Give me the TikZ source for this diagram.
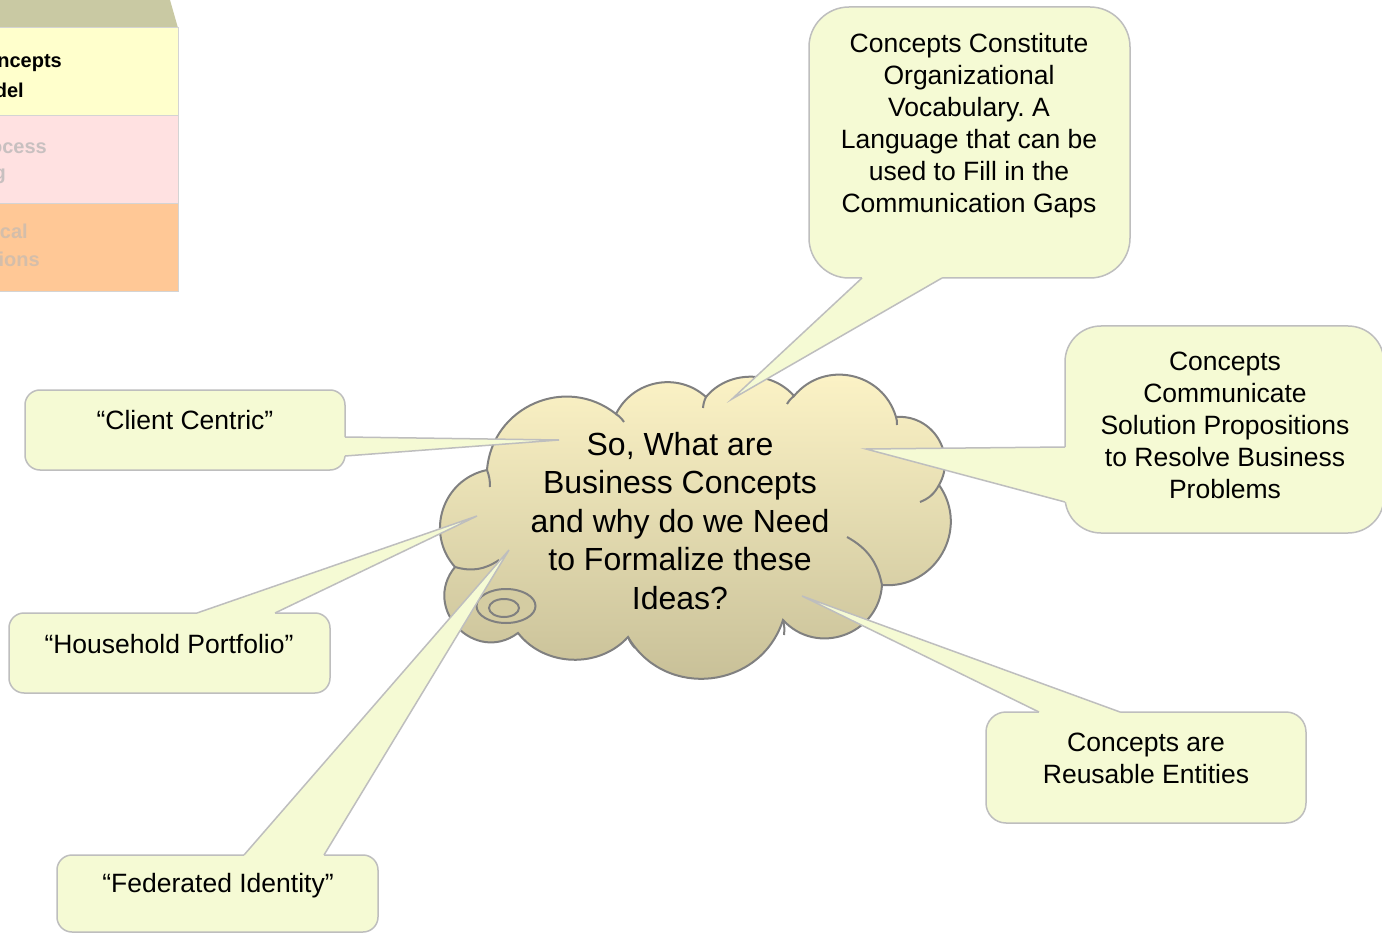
\documentclass[tikz,border=0pt]{standalone}
\usepackage{fontspec}
\setmainfont{Liberation Sans}
\frenchspacing
\definecolor{bubblefill}{RGB}{245,250,212}
\definecolor{bubbleline}{RGB}{190,190,190}
\definecolor{cloudtop}{RGB}{254,245,200}
\definecolor{cloudbot}{RGB}{197,189,149}
\definecolor{cloudline}{RGB}{128,128,128}
\definecolor{tailfill}{RGB}{212,204,162}
\definecolor{stacktop}{RGB}{201,201,163}
\definecolor{stackyel}{RGB}{255,255,204}
\definecolor{stackpink}{RGB}{255,225,225}
\definecolor{stackorange}{RGB}{255,200,150}
\definecolor{stackline}{RGB}{212,212,212}
\definecolor{pinktext}{RGB}{200,192,192}
\definecolor{orangetext}{RGB}{212,190,170}
\tikzset{
  bubble/.style={fill=bubblefill, draw=bubbleline, line width=1.5pt},
  bubbleedge/.style={draw=bubbleline, line width=1.5pt, line join=miter},
  bubblecover/.style={fill=bubblefill},
  bubbletext/.style={font=\fontsize{26.5}{32}\selectfont, align=center, text=black, inner sep=0pt},
  cloudshape/.style={top color=cloudtop, bottom color=cloudbot, draw=cloudline, line width=2pt},
  cloudinner/.style={draw=cloudline, line width=2pt},
  cloudtext/.style={font=\fontsize{32}{38.5}\selectfont, align=center, inner sep=0pt},
  stacktext/.style={font=\fontsize{20}{27}\selectfont\bfseries, inner sep=0pt, anchor=east},
  stackcell/.style={draw=stackline, line width=1pt},
}
\begin{document}
\begin{tikzpicture}[x=1pt, y=-1pt]
\useasboundingbox (0,0) rectangle (1382,933);
\fill[white] (0,0) rectangle (1382,933);

% ---- stack (top left, partially cut off)
\fill[stacktop] (-5,0) -- (170,0) -- (178,28) -- (-5,28) -- cycle;
\filldraw[stackcell, fill=stackyel] (-5,28) rectangle (178,116);
\filldraw[stackcell, fill=stackpink] (-5,116) rectangle (178,204);
\filldraw[stackcell, fill=stackorange] (-5,204) rectangle (178,292);
\node[stacktext] (s1) at (62,63) {ncepts};
\node[stacktext] (s2) at (24,90) {del};
\node[stacktext, text=pinktext] (s3) at (47,148) {ocess};
\node[stacktext, text=pinktext] (s4) at (6,176) {g};
\node[stacktext, text=orangetext] (s5) at (28,231) {cal};
\node[stacktext, text=orangetext] (s6) at (40,259) {ions};

% ---- cloud
\coordinate (cA) at (487,470);
\coordinate (cB) at (616,414);
\coordinate (cC) at (706,397);
\coordinate (cD) at (794,396);
\coordinate (cE) at (896,417);
\coordinate (cF) at (939,485);
\coordinate (cG) at (882,585);
\coordinate (cH) at (783,620);
\coordinate (cI) at (628,637);
\coordinate (cJ) at (518,633);
\coordinate (cK) at (455,567);
\path[cloudshape] (cA)
  to[bend left=62, looseness=1.16] (cB)
  to[bend left=53, looseness=1.06] (cC)
  to[bend left=50, looseness=1.0] (cD)
  to[bend left=62, looseness=1.16] (cE)
  to[bend left=62, looseness=1.16] (cF)
  to[bend left=65, looseness=1.2] (cG)
  to[bend left=67, looseness=1.22] (cH)
  to[bend left=66, looseness=1.2] (cI)
  to[bend left=50, looseness=1.0] (cJ)
  to[bend left=83, looseness=1.5] (cK)
  to[bend left=60, looseness=1.14] (cA) -- cycle;
\draw[cloudinner] (cA) to[bend left=10] (490,487);
\draw[cloudinner] (cB) to[bend left=10] (624,422);
\draw[cloudinner] (cC) to[bend right=10] (703,408);
\draw[cloudinner] (cD) to[bend right=10] (787,404);
\draw[cloudinner] (cE) to[bend left=10] (897,425);
\draw[cloudinner] (cF) to[bend left=20] (920,502);
\draw[cloudinner] (847,537) to[bend left=25] (cG);
\draw[cloudinner] (cH) to[bend left=10] (784,635);
\draw[cloudinner] (cI) to[bend right=10] (635,648);
\draw[cloudinner] (cK) to[bend right=25] (499,560);
\filldraw[fill=tailfill, draw=cloudline, line width=2pt] (506,606) ellipse [x radius=29.5pt, y radius=17pt];
\draw[cloudinner] (504,608) ellipse [x radius=15pt, y radius=9pt];
\node[cloudtext] (cloud) at (680,521) {So, What are\\Business Concepts\\and why do we Need\\to Formalize these\\Ideas?};

% ---- tips
\coordinate (tT) at (732,399);
\coordinate (tR) at (866,449);
\coordinate (tU) at (802,596);
\coordinate (tC) at (559,440);
\coordinate (tH) at (477,516);
\coordinate (tF) at (509,550);

% ---- top callout
\draw[bubble, rounded corners=40pt] (809,7) rectangle (1130,278);
\fill[bubblecover] (862,278) -- (tT) -- (942,278) -- (942,275) -- (862,275) -- cycle;
\draw[bubbleedge] (862,278) -- (tT) -- (942,278);
\node[bubbletext] (constitute) at (969,126) {Concepts Constitute\\Organizational\\Vocabulary. A\\Language that can be\\used to Fill in the\\Communication Gaps};

% ---- right callout
\draw[bubble, rounded corners=36pt] (1065,326) rectangle (1384,533);
\fill[bubblecover] (1065,447) -- (tR) -- (1065,502) -- (1068,502) -- (1068,447) -- cycle;
\draw[bubbleedge] (1065,447) -- (tR) -- (1065,502);
\node[bubbletext] (communicate) at (1225,425) {Concepts\\Communicate\\Solution Propositions\\to Resolve Business\\Problems};

% ---- reusable callout
\draw[bubble, rounded corners=20pt] (986,712) rectangle (1306,823);
\fill[bubblecover] (1039,712) -- (tU) -- (1120,712) -- (1120,715) -- (1039,715) -- cycle;
\draw[bubbleedge] (1039,712) -- (tU) -- (1120,712);
\node[bubbletext] (reusable) at (1146,758) {Concepts are\\Reusable Entities};

% ---- client centric
\draw[bubble, rounded corners=15pt] (25,390) rectangle (345,470);
\fill[bubblecover] (345,437) -- (tC) -- (345,456) -- (342,456) -- (342,437) -- cycle;
\draw[bubbleedge] (345,437) -- (tC) -- (345,456);
\node[bubbletext] (client) at (185,420) {“Client Centric”};

% ---- household portfolio
\draw[bubble, rounded corners=15pt] (9,613) rectangle (330,693);
\fill[bubblecover] (197,613) -- (tH) -- (275,613) -- (275,616) -- (197,616) -- cycle;
\draw[bubbleedge] (197,613) -- (tH) -- (275,613);
\node[bubbletext] (household) at (169,644) {“Household Portfolio”};

% ---- federated identity
\draw[bubble, rounded corners=15pt] (57,855) rectangle (378,932);
\fill[bubblecover] (244,855) -- (tF) -- (324,855) -- (324,858) -- (244,858) -- cycle;
\draw[bubbleedge] (244,855) -- (tF) -- (324,855);
\node[bubbletext] (federated) at (218,886) {“Federated Identity”};
\end{tikzpicture}
\end{document}
